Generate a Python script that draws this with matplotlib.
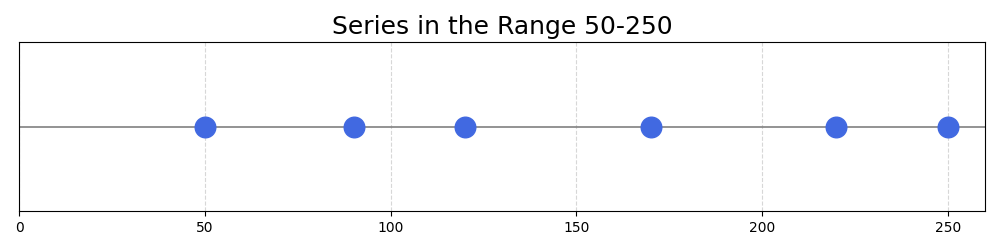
import matplotlib
matplotlib.use("Agg")
import matplotlib.pyplot as plt

values = [50, 90, 120, 170, 220, 250]
x_ticks = [0, 50, 100, 150, 200, 250]

fig, ax = plt.subplots(figsize=(10, 2.5), dpi=100)

ax.axhline(0, color='grey', linewidth=1.2, zorder=1)
ax.scatter(values, [0] * len(values), s=220, color='royalblue', zorder=3)

ax.set_xlim(0, 260)
ax.set_ylim(-1, 1)
ax.set_xticks(x_ticks)
ax.set_yticks([])
ax.grid(axis='x', linestyle='--', color='lightgrey', alpha=0.9, zorder=0)
ax.set_axisbelow(True)
ax.set_title('Series in the Range 50-250', fontsize=18)

plt.tight_layout()
plt.savefig('out.png', dpi=100)
plt.close()
